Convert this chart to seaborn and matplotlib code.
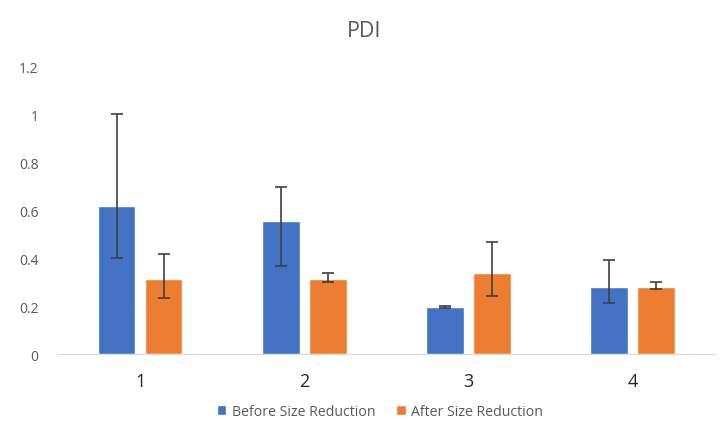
import pandas as pd
import matplotlib
matplotlib.use('Agg')
import matplotlib.pyplot as plt
import seaborn as sns

# values
samples = ['1', '2', '3', '4']
before = [0.617, 0.555, 0.194, 0.278]
before_hi = [1.0, 0.697, 0.199, 0.392]
before_lo = [0.40, 0.368, 0.190, 0.211]
after = [0.313, 0.313, 0.336, 0.280]
after_hi = [0.417, 0.338, 0.465, 0.298]
after_lo = [0.233, 0.298, 0.243, 0.271]
series = ['Before Size Reduction', 'After Size Reduction']
colors = ['#4472C4', '#ED7D31']

df = pd.DataFrame({
    'sample': samples * 2,
    'PDI': before + after,
    'series': [series[0]] * 4 + [series[1]] * 4,
})

sns.set_style('white')
plt.rcParams['font.family'] = ['Open Sans', 'DejaVu Sans']

fig = plt.figure(figsize=(7.28, 4.31), dpi=100)
ax = fig.add_axes([0.0797, 0.1763, 0.9023, 0.6682])

sns.barplot(data=df, x='sample', y='PDI', hue='series', palette=colors,
            saturation=1, width=0.573, gap=0.2, errorbar=None, ax=ax)

# asymmetric error bars drawn at the bar centres
vals = [before, after]
his = [before_hi, after_hi]
los = [before_lo, after_lo]
bar_conts = list(ax.containers)
for k, cont in enumerate(bar_conts):
    xs = [p.get_x() + p.get_width() / 2 for p in cont.patches]
    yerr = [[v - l for v, l in zip(vals[k], los[k])],
            [h - v for v, h in zip(vals[k], his[k])]]
    ax.errorbar(xs, vals[k], yerr=yerr, fmt='none', ecolor='#404040',
                elinewidth=1.2, capsize=4, capthick=1.2)

ax.set_xlim(-0.5, 3.5)
ax.set_ylim(0, 1.2)
ax.set_yticks([0, 0.2, 0.4, 0.6, 0.8, 1.0, 1.2])
ax.set_yticklabels(['0', '0.2', '0.4', '0.6', '0.8', '1', '1.2'])
ax.tick_params(axis='y', labelsize=10, labelcolor='#595959', length=0, pad=14)
ax.tick_params(axis='x', labelsize=13, labelcolor='#262626', length=0, pad=13)
ax.set_xlabel('')
ax.set_ylabel('')
for s in ['top', 'right', 'left']:
    ax.spines[s].set_visible(False)
ax.spines['bottom'].set_color('#D9D9D9')

fig.text(0.5, 0.927, 'PDI', ha='center', va='center', fontsize=15.5, color='#595959')

ax.legend(loc='upper center', bbox_to_anchor=(0.49, -0.13), ncol=2, frameon=False,
          fontsize=10.2, labelcolor='#595959', handlelength=0.7, handleheight=0.7,
          columnspacing=1.4, handletextpad=0.4)

fig.savefig('out.png', dpi=100)
